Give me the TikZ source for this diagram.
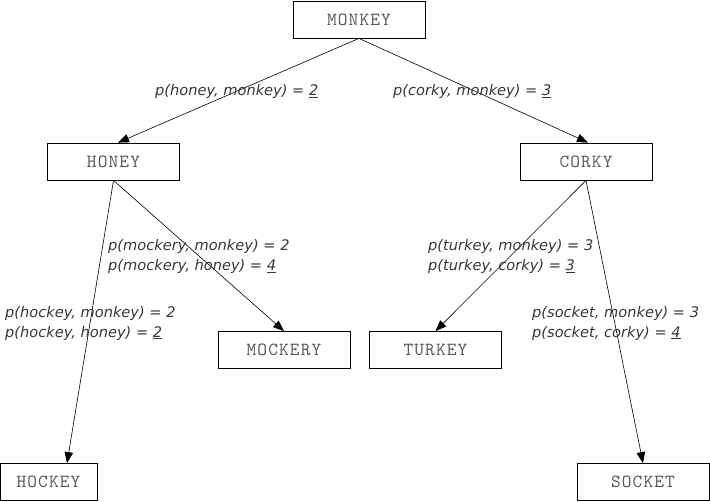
\documentclass[tikz,border=0pt]{standalone}
\usepackage{fontspec}
\newfontfamily\labfont{DejaVu Sans}[ItalicFont={* Oblique}]
\newfontfamily\wordfont{lmmono10-regular.otf}[LetterSpace=6]
\usetikzlibrary{arrows.meta}
\tikzset{
  word/.style={draw, line width=0.8pt, minimum width=132pt, minimum height=37pt, inner sep=0pt,
    font=\wordfont\fontsize{18.5}{20}\selectfont, text=black!65},
  lab/.style={font=\labfont\itshape\fontsize{14.6}{20}\selectfont, text=black!78, align=left,
    anchor=west, inner sep=0pt},
  edge/.style={-{Triangle[length=11pt,width=8.5pt]}, line width=0.6pt},
}
\begin{document}
\begin{tikzpicture}[x=1pt,y=-1pt]
\useasboundingbox (0,0) rectangle (710,502);
\node[word] (monkey) at (359,19.5) {MONKEY};
\node[word] (honey) at (113.5,161.5) {HONEY};
\node[word] (corky) at (586,161.5) {CORKY};
\node[word] (mockery) at (284,350) {MOCKERY};
\node[word] (turkey) at (435.5,350) {TURKEY};
\node[word, minimum width=97pt] (hockey) at (48.5,482) {HOCKEY};
\node[word] (socket) at (643,482) {SOCKET};

\draw[edge] (monkey.south) -- ([xshift=4.5pt]honey.north);
\draw[edge] (monkey.south) -- ([xshift=2pt]corky.north);
\draw[edge] (honey.south) -- ([xshift=18.5pt]hockey.north);
\draw[edge] (honey.south) -- (mockery.north);
\draw[edge] (corky.south) -- (turkey.north);
\draw[edge] (corky.south) -- (socket.north);

\node[lab] (l1) at (155,91.5) {p(honey, monkey) = \underline{2}};
\node[lab] (l2) at (393,91.5) {p(corky, monkey) = \underline{3}};
\node[lab] (l3) at (108,256.5) {p(mockery, monkey) = 2\\p(mockery, honey) = \underline{4}};
\node[lab] (l4) at (5,323) {p(hockey, monkey) = 2\\p(hockey, honey) = \underline{2}};
\node[lab] (l5) at (428,256.5) {p(turkey, monkey) = 3\\p(turkey, corky) = \underline{3}};
\node[lab] (l6) at (532,323) {p(socket, monkey) = 3\\p(socket, corky) = \underline{4}};
\end{tikzpicture}
\end{document}
